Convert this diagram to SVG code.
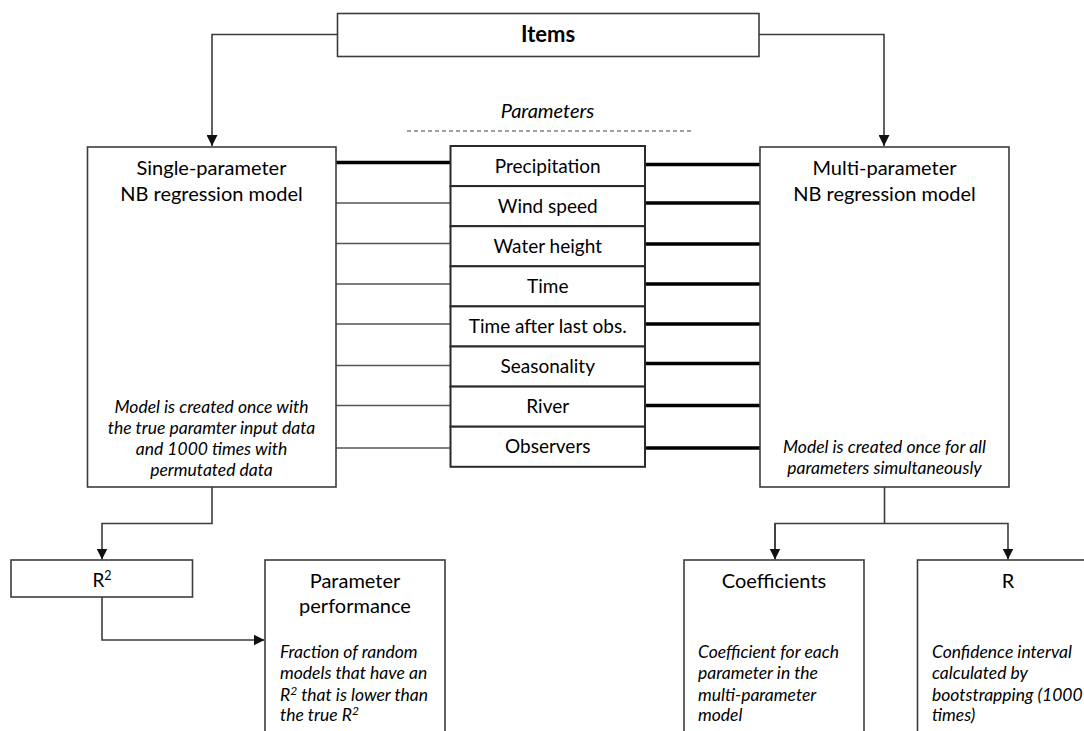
<svg xmlns="http://www.w3.org/2000/svg" width="1084" height="731" viewBox="0 0 1084 731">
<defs>
<marker id="arr" viewBox="0 0 11 11" refX="11" refY="5.5" markerWidth="11" markerHeight="11" markerUnits="userSpaceOnUse" orient="auto">
<path d="M0,0 L11,5.5 L0,11 z" fill="#111"/>
</marker>
<style>
.box{fill:#fff;stroke:#3c3c3c;stroke-width:1.6}
.pbox{fill:#fff;stroke:#2a2a2a;stroke-width:2}
.con{fill:none;stroke:#3c3c3c;stroke-width:1.6}
.thick{stroke:#000;stroke-width:3.5}
.thin{stroke:#555;stroke-width:1.3}
.t{font-family:Lato,"Liberation Sans",sans-serif;fill:#000;text-anchor:middle}
.title{font-size:20px}
.param{font-size:19px}
.it{font-family:Lato,"Liberation Sans",sans-serif;font-style:italic;font-size:17.5px;fill:#000}
.c{text-anchor:middle}
</style>
</defs>
<rect width="1084" height="731" fill="#fff"/>

<g id="connectors">
<path class="con" d="M337,34.5 H212 V146" marker-end="url(#arr)"/>
<path class="con" d="M759,34.5 H884 V146" marker-end="url(#arr)"/>
<path class="con" d="M212,487 V523.5 H102 V559.5" marker-end="url(#arr)"/>
<path class="con" d="M102,597 V640 H264.5" marker-end="url(#arr)"/>
<path class="con" d="M884.5,487 V523.5"/>
<path class="con" d="M775,559.5 V523.5 H1008 V559.5" marker-end="url(#arr)"/>
<path class="con" d="M775,523.5 V559.5" marker-end="url(#arr)"/>
<g id="left-links">
<line class="thick" x1="336" y1="162.5" x2="450" y2="162.5"/>
<line class="thin" x1="336" y1="203" x2="450" y2="203"/>
<line class="thin" x1="336" y1="243.5" x2="450" y2="243.5"/>
<line class="thin" x1="336" y1="284" x2="450" y2="284"/>
<line class="thin" x1="336" y1="324" x2="450" y2="324"/>
<line class="thin" x1="336" y1="365.5" x2="450" y2="365.5"/>
<line class="thin" x1="336" y1="405.5" x2="450" y2="405.5"/>
<line class="thin" x1="336" y1="448" x2="450" y2="448"/>
</g>
<g id="right-links">
<line class="thick" x1="645" y1="164.5" x2="760" y2="164.5"/>
<line class="thick" x1="645" y1="203" x2="760" y2="203"/>
<line class="thick" x1="645" y1="244" x2="760" y2="244"/>
<line class="thick" x1="645" y1="284" x2="760" y2="284"/>
<line class="thick" x1="645" y1="324" x2="760" y2="324"/>
<line class="thick" x1="645" y1="363.5" x2="760" y2="363.5"/>
<line class="thick" x1="645" y1="405.5" x2="760" y2="405.5"/>
<line class="thick" x1="645" y1="448" x2="760" y2="448"/>
</g>
</g>

<g id="items">
<rect class="box" x="337.5" y="13.5" width="421.5" height="43"/>
<text class="t" x="548" y="42" font-size="22" font-weight="bold">Items</text>
</g>

<g id="parameters-header">
<text class="t" x="547.5" y="118" font-size="20" font-style="italic">Parameters</text>
<line x1="407" y1="131" x2="691" y2="131" stroke="#444" stroke-width="1.2" stroke-dasharray="4 3"/>
</g>

<g id="single-model">
<rect class="box" x="87.5" y="147" width="248.5" height="340"/>
<text class="t title" x="211.5" y="175">Single-parameter</text>
<text class="t title" x="211.5" y="200.5">NB regression model</text>
<text class="it c" x="211.5" y="412.5">Model is created once with</text>
<text class="it c" x="211.5" y="433.5">the true paramter input data</text>
<text class="it c" x="211.5" y="454.5">and 1000 times with</text>
<text class="it c" x="211.5" y="475.5">permutated data</text>
</g>

<g id="multi-model">
<rect class="box" x="760" y="147" width="249" height="340"/>
<text class="t title" x="884.5" y="175">Multi-parameter</text>
<text class="t title" x="884.5" y="200.5">NB regression model</text>
<text class="it c" x="884.5" y="453">Model is created once for all</text>
<text class="it c" x="884.5" y="474">parameters simultaneously</text>
</g>

<g id="p-precipitation"><rect class="pbox" x="450.5" y="146" width="194.5" height="40"/><text class="t param" x="547.75" y="172.5">Precipitation</text></g>
<g id="p-wind"><rect class="pbox" x="450.5" y="186.1" width="194.5" height="40.1"/><text class="t param" x="547.75" y="212.7">Wind speed</text></g>
<g id="p-water"><rect class="pbox" x="450.5" y="226.2" width="194.5" height="40.1"/><text class="t param" x="547.75" y="252.8">Water height</text></g>
<g id="p-time"><rect class="pbox" x="450.5" y="266.3" width="194.5" height="40.1"/><text class="t param" x="547.75" y="292.9">Time</text></g>
<g id="p-timeafter"><rect class="pbox" x="450.5" y="306.4" width="194.5" height="40.1"/><text class="t param" x="547.75" y="333">Time after last obs.</text></g>
<g id="p-season"><rect class="pbox" x="450.5" y="346.5" width="194.5" height="40.1"/><text class="t param" x="547.75" y="373.1">Seasonality</text></g>
<g id="p-river"><rect class="pbox" x="450.5" y="386.6" width="194.5" height="40.1"/><text class="t param" x="547.75" y="413.2">River</text></g>
<g id="p-observers"><rect class="pbox" x="450.5" y="426.7" width="194.5" height="40.1"/><text class="t param" x="547.75" y="453.3">Observers</text></g>

<g id="r2">
<rect class="box" x="11" y="560" width="181.5" height="37"/>
<text class="t param" x="102" y="587">R<tspan font-size="12.5" dy="-7">2</tspan></text>
</g>

<g id="param-performance">
<rect class="box" x="265" y="560" width="180" height="180"/>
<text class="t title" x="355" y="588">Parameter</text>
<text class="t title" x="355" y="613">performance</text>
<text class="it" x="280" y="657.5">Fraction of random</text>
<text class="it" x="280" y="679">models that have an</text>
<text class="it" x="280" y="700.5">R<tspan font-size="12" dy="-6">2</tspan><tspan dy="6"> that is lower than</tspan></text>
<text class="it" x="280" y="721">the true R<tspan font-size="12" dy="-6">2</tspan></text>
</g>

<g id="coefficients">
<rect class="box" x="684" y="560" width="180" height="180"/>
<text class="t title" x="774" y="588">Coefficients</text>
<text class="it" x="698" y="657.5">Coefficient for each</text>
<text class="it" x="698" y="679">parameter in the</text>
<text class="it" x="698" y="700.5">multi-parameter</text>
<text class="it" x="698" y="721">model</text>
</g>

<g id="r">
<rect class="box" x="917.5" y="560" width="190" height="180"/>
<text class="t title" x="1008" y="588">R</text>
<text class="it" x="932" y="657.5">Confidence interval</text>
<text class="it" x="932" y="679">calculated by</text>
<text class="it" x="932" y="700.5">bootstrapping (1000</text>
<text class="it" x="932" y="721">times)</text>
</g>
</svg>
